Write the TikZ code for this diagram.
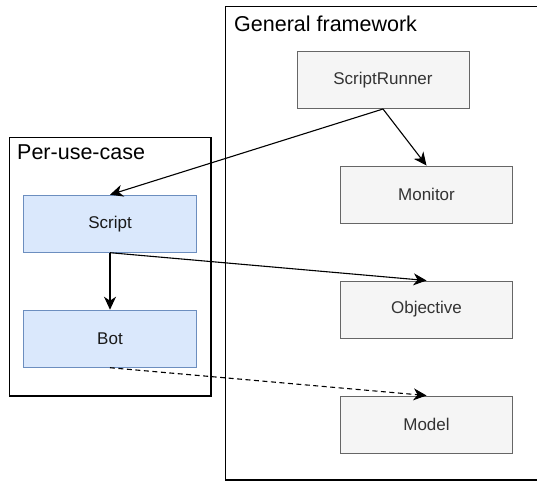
\documentclass[tikz,border=0pt]{standalone}
\usepackage{fontspec}
\setmainfont{Liberation Sans}
\usetikzlibrary{arrows.meta}
\definecolor{grayfill}{HTML}{F5F5F5}
\definecolor{graystroke}{HTML}{666666}
\definecolor{graytext}{HTML}{333333}
\definecolor{bluefill}{HTML}{DAE8FC}
\definecolor{bluestroke}{HTML}{6C8EBF}
\tikzset{
  graybox/.style={draw=graystroke, fill=grayfill, line width=1pt, minimum width=172pt, minimum height=57pt, inner sep=0pt, text=graytext, font=\fontsize{17}{20}\selectfont},
  bluebox/.style={draw=bluestroke, fill=bluefill, line width=1pt, minimum width=173pt, minimum height=57pt, inner sep=0pt, text=black!90, font=\fontsize{17}{20}\selectfont},
  container/.style={draw=black, fill=white, line width=1.2pt},
  title/.style={anchor=base west, inner sep=0pt, font=\fontsize{21.5}{25}\selectfont},
  conn/.style={line width=1.1pt, -{Stealth[length=13pt, width=12pt, inset=4pt]}},
}
\begin{document}
\begin{tikzpicture}[x=1pt,y=-1pt]
\useasboundingbox (0,0) rectangle (537,483);
\fill[white] (0,0) rectangle (537,483);
% containers
\draw[container] (225.5,6.5) rectangle (545,480);
\node[title] (gftitle) at (234,31) {General framework};
\draw[container] (9.5,137.5) rectangle (211,396);
\node[title] (puctitle) at (17,159) {Per-use-case};
% nodes
\node[graybox] (sr) at (383,80) {ScriptRunner};
\node[graybox] (mon) at (426.5,194.5) {Monitor};
\node[graybox] (obj) at (426.5,309.5) {Objective};
\node[graybox] (model) at (426.5,424.5) {Model};
\node[bluebox] (script) at (110,223.7) {Script};
\node[bluebox] (bot) at (110,338.7) {Bot};
% connectors
\draw[conn] (sr.south) -- (script.north);
\draw[conn] (sr.south) -- (mon.north);
\draw[conn] (script.south) -- (obj.north);
\draw[conn] (script.south) -- (bot.north);
\draw[conn, dash pattern=on 5pt off 3.5pt] (bot.south) -- (model.north);
\end{tikzpicture}
\end{document}
